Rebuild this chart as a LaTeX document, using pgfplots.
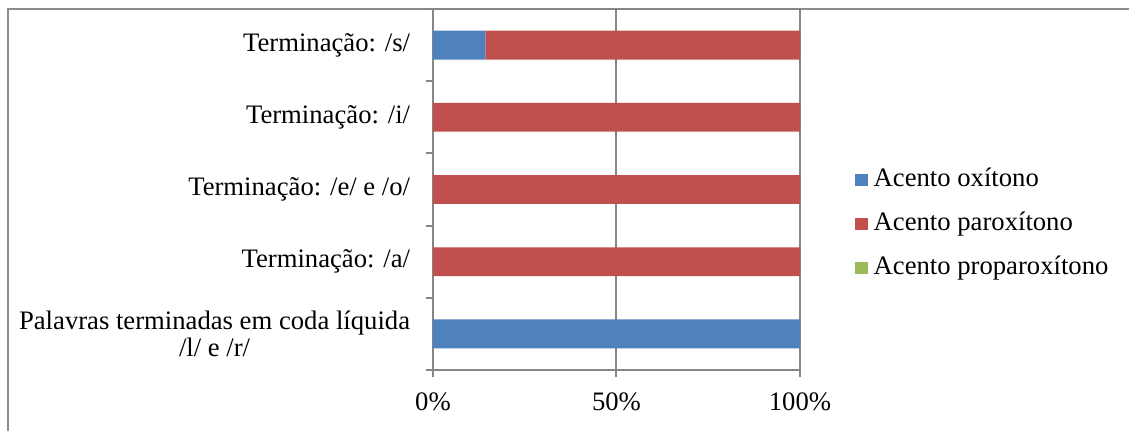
\documentclass[border=0pt]{standalone}
\usepackage{pgfplots}
\pgfplotsset{compat=1.18}
\usepackage{fontspec}
\setmainfont{Liberation Serif}

\definecolor{oxi}{RGB}{79,129,189}
\definecolor{parox}{RGB}{192,80,77}
\definecolor{propa}{RGB}{155,187,89}
\definecolor{linegray}{RGB}{134,134,134}
\definecolor{framegray}{RGB}{140,140,140}

\newcommand{\chartfont}{\fontsize{20}{20.5}\selectfont}

\begin{document}
\begin{tikzpicture}
\useasboundingbox (0,0) rectangle (846.75pt,322.5pt);
% outer chart frame
\draw[framegray, line width=1.3pt] (6pt,-2pt) -- (6pt,315.75pt) -- (850pt,315.75pt);
\begin{axis}[
  at={(324.75pt,45pt)}, anchor=south west,
  width=275.25pt, height=270.75pt, scale only axis,
  xbar stacked, bar width=0.4,
  xmin=0, xmax=100, ymin=-0.5, ymax=4.5,
  xtick={0,50,100}, xticklabels={0\%,50\%,100\%},
  ytick={-0.5,0.5,1.5,2.5,3.5,4.5},
  y tick label as interval,
  yticklabels={{Palavras terminadas em coda líquida\\/l/ e /r/},
               {Terminação: /a/},
               {Terminação: /e/ e /o/},
               {Terminação: /i/},
               {Terminação: /s/}},
  xtick pos=bottom, ytick pos=left,
  tick align=outside, major tick length=5.6pt,
  xmajorgrids,
  major grid style={linegray, line width=1.5pt},
  axis line style={linegray, line width=1.5pt},
  tick style={linegray, line width=1.5pt},
  tick label style={font=\chartfont},
  xticklabel style={inner sep=0pt, anchor=north, yshift=-10.9pt},
  yticklabel style={inner sep=0pt, anchor=east, align=center, xshift=-11.4pt},
  legend cell align=left,
  legend style={at={(1.15,0.404)}, anchor=west, draw=none, fill=none,
    inner sep=0pt, row sep=14.5pt, font=\chartfont,
    nodes={inner sep=0pt, text height=14pt, text depth=4.5pt},
    /tikz/every odd column/.append style={column sep=4.5pt}},
  legend image code/.code={\fill[#1] (0pt,-4.6pt) rectangle (9.3pt,4.6pt);},
]
\addplot[fill=oxi, draw=none] coordinates {(100,0) (0,1) (0,2) (0,3) (14.29,4)};
\addplot[fill=parox, draw=none] coordinates {(0,0) (100,1) (100,2) (100,3) (85.71,4)};
\addplot[fill=propa, draw=none] coordinates {(0,0) (0,1) (0,2) (0,3) (0,4)};
\legend{Acento oxítono, Acento paroxítono, Acento proparoxítono}
\end{axis}
\end{tikzpicture}
\end{document}
